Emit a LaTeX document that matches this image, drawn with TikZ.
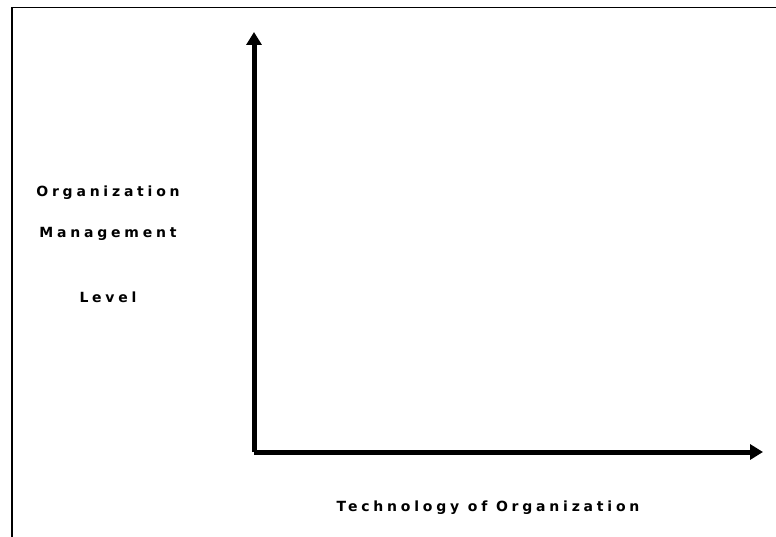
\documentclass[tikz,border=0pt]{standalone}
\usepackage{fontspec}
\setmainfont{DejaVu Sans}
\newfontfamily\labelfont[LetterSpace=27]{DejaVu Sans Bold}
\usetikzlibrary{arrows.meta}
\tikzset{
  frameline/.style={line width=1.4pt},
  axisline/.style={line width=5pt, line join=round, -{Triangle[length=13pt,width=15pt]}},
  axlabel/.style={font=\labelfont\fontsize{14pt}{16pt}\selectfont, inner sep=0pt, anchor=base}
}
\begin{document}
\begin{tikzpicture}[x=1pt,y=-1pt]
\useasboundingbox (0,0) rectangle (776,537);
\fill[white] (0,0) rectangle (776,537);
% frame (left and top edges)
\draw[frameline] (12,537) -- (12,7.5) -- (776,7.5);
% axes
\coordinate (origin) at (254,452);
\coordinate (ytip) at (254,32);
\coordinate (xtip) at (763,452);
\draw[axisline] (ytip |- origin) -- (ytip);
\draw[axisline] (origin) -- (xtip);
% labels
\node[axlabel] (l1) at (108,197) {Organization};
\node[axlabel] (l2) at (108,238) {Management};
\node[axlabel] (l3) at (108,302) {Level};
\node[axlabel] (xl) at (488,511) {Technology of Organization};
\end{tikzpicture}
\end{document}
